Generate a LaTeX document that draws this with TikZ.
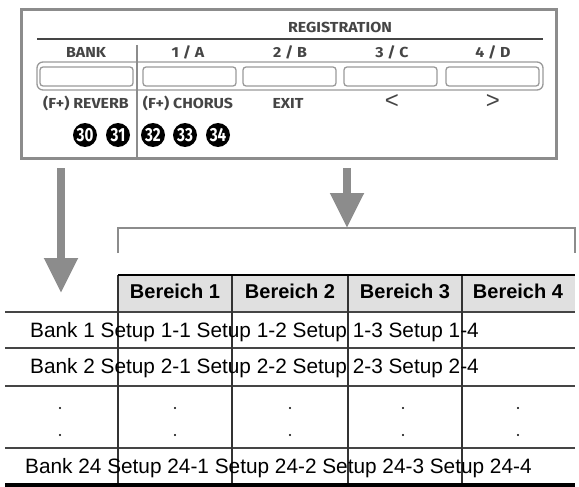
\documentclass[tikz,border=0pt]{standalone}
\usepackage{fontspec}
\setmainfont{Liberation Sans}
\newfontfamily\panelfont[FakeStretch=1.1]{Fira Sans}
\newfontfamily\numfont[FakeStretch=0.8]{Fira Sans}
\usetikzlibrary{arrows.meta}
\definecolor{frame}{gray}{0.55}
\definecolor{ink}{gray}{0.27}
\definecolor{keyline}{gray}{0.6}
\definecolor{headfill}{gray}{0.88}
\tikzset{
  panelbox/.style={draw=frame,line width=3.5pt,minimum width=535pt,minimum height=149pt,inner sep=0},
  keybox/.style={draw=keyline,line width=1.3pt,rounded corners=3pt,minimum width=93pt,minimum height=19pt,inner sep=0},
  lbl/.style={text=ink,inner sep=0,font=\panelfont\bfseries\fontsize{14.5}{14.5}\selectfont},
  chev/.style={text=ink,inner sep=0,font=\fontsize{24}{24}\selectfont},
  num/.style={circle,fill=black,text=white,minimum size=24pt,inner sep=0,font=\numfont\bfseries\fontsize{19}{19}\selectfont},
  bigarrow/.style={draw=frame,line width=8pt,-{Triangle[width=32pt,length=35pt]}},
  headcell/.style={anchor=base,inner sep=0,font=\bfseries\fontsize{20}{20}\selectfont},
  rowtext/.style={anchor=base west,inner sep=0,font=\fontsize{20.8}{20.8}\selectfont},
}
\begin{document}
\begin{tikzpicture}[x=1pt,y=-1pt]
\useasboundingbox (0,0) rectangle (579,487);
% control panel
\node[panelbox] (panel) at (289,84) {};
\node[lbl] (reg) at (340,27) {REGISTRATION};
\draw[ink,line width=1.3pt] (37,39)--(543,39);
\node[lbl] (bank) at (86,52) {BANK};
\node[lbl] (ka) at (188,52) {1 / A};
\node[lbl] (kb) at (290,52) {2 / B};
\node[lbl] (kc) at (392,52) {3 / C};
\node[lbl] (kd) at (493,52) {4 / D};
\draw[keyline,line width=1.3pt,rounded corners=6pt] (37,62) rectangle (543,90);
\node[keybox] (bankkey) at (86.5,76.5) {};
\node[keybox] (akey) at (189.5,76.5) {};
\node[keybox] (bkey) at (289.5,76.5) {};
\node[keybox] (ckey) at (390.5,76.5) {};
\node[keybox] (dkey) at (492.5,76.5) {};
\draw[frame,line width=2pt] (137,45)--(137,160);
\node[lbl] (reverb) at (86,103) {(F+) REVERB};
\node[lbl] (chorus) at (188,103) {(F+) CHORUS};
\node[lbl] (exit) at (288,103) {EXIT};
\node[chev] (back) at (392,102) {<};
\node[chev] (fwd) at (493,102) {>};
\node[num] (n30) at (85,135) {30};
\node[num] (n31) at (118,135) {31};
\node[num] (n32) at (153,135) {32};
\node[num] (n33) at (185,135) {33};
\node[num] (n34) at (218,135) {34};
% arrows and bracket
\coordinate (bankout) at (61,168);
\coordinate (bankin) at (61,293);
\coordinate (regout) at (347,168);
\coordinate (regin) at (347,228);
\draw[bigarrow] (bankout)--(bankin);
\draw[bigarrow] (regout)--(regin);
\draw[frame,line width=2pt] (118,253)--(118,228)--(575,228)--(575,253);
% table
\fill[headfill] (118,275) rectangle (575,312);
\node[headcell] (h1) at (175,298) {Bereich 1};
\node[headcell] (h2) at (290,298) {Bereich 2};
\node[headcell] (h3) at (405,298) {Bereich 3};
\node[headcell] (h4) at (518,298) {Bereich 4};
\begin{scope}[line width=1.5pt,draw=ink]
\draw(5,312)--(575,312);
\draw(5,348)--(575,348);
\draw(5,386)--(575,386);
\draw(5,448)--(575,448);
\end{scope}
\begin{scope}[line width=1.2pt,draw=black!80]
\draw(118,275)--(118,485);
\draw(232,275)--(232,485);
\draw(348,275)--(348,485);
\draw(462,275)--(462,485);
\end{scope}
\draw[line width=2pt] (118,275)--(575,275);
\draw[line width=4pt] (5,485)--(575,485);
\node[rowtext] (r1) at (30,337) {Bank 1 Setup 1-1 Setup 1-2 Setup 1-3 Setup 1-4};
\node[rowtext] (r2) at (30,373) {Bank 2 Setup 2-1 Setup 2-2 Setup 2-3 Setup 2-4};
\node[rowtext] (r24) at (25,473) {Bank 24 Setup 24-1 Setup 24-2 Setup 24-3 Setup 24-4};
\foreach \x in {60,175,290,403,518}{
  \fill (\x,408) circle (1.2);
  \fill (\x,435) circle (1.2);
}
\end{tikzpicture}
\end{document}
